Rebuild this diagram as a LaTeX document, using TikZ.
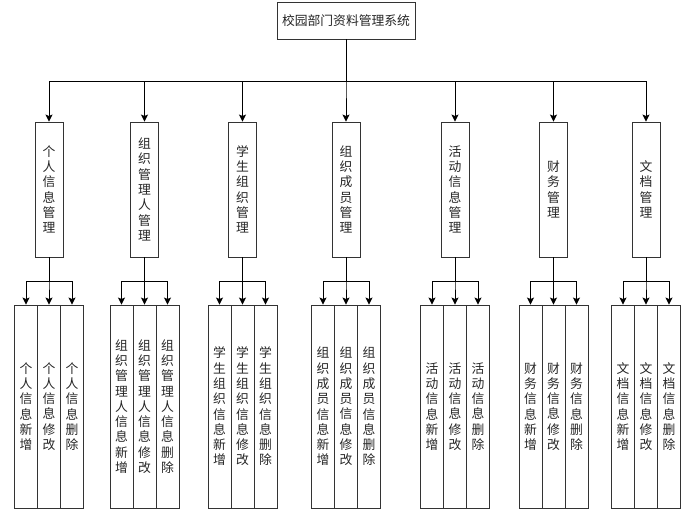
\documentclass[tikz,border=0pt]{standalone}
\usepackage{fontspec}
\setmainfont{Noto Sans CJK SC}
\usetikzlibrary{arrows.meta}
\begin{document}
\begin{tikzpicture}[x=1pt,y=-1pt,
  box/.style={draw=black!80,line width=0.9pt,fill=white,inner sep=0pt,align=center,
    text=black!85,font=\fontsize{12.8}{15.3}\selectfont},
  topbox/.style={box,minimum width=138pt,minimum height=37pt},
  midbox/.style={box,minimum width=28pt,minimum height=135pt},
  leafbox/.style={box,minimum width=23pt,minimum height=203pt},
  arr/.style={line width=0.9pt,-{Stealth[length=7pt,width=7pt,inset=1.5pt]}}]
\useasboundingbox (0,0) rectangle (693,526);
\node[topbox] (top) at (346,20.5) {校园部门资料管理系统};
\coordinate (bus1) at (0,81);
\coordinate (bus2) at (0,281);
\foreach \i/\x/\ttl/\pre in {
  1/49/{个\\人\\信\\息\\管\\理}/{个\\人},
  2/144.5/{组\\织\\管\\理\\人\\管\\理}/{组\\织\\管\\理\\人},
  3/242.5/{学\\生\\组\\织\\管\\理}/{学\\生\\组\\织},
  4/346/{组\\织\\成\\员\\管\\理}/{组\\织\\成\\员},
  5/455/{活\\动\\信\\息\\管\\理}/{活\\动},
  6/553.5/{财\\务\\管\\理}/{财\\务},
  7/646/{文\\档\\管\\理}/{文\\档}}{
  \node[midbox] (l2-\i) at (\x,189.5) {\ttl};
  \draw[arr] (top.south) -- (top.south |- bus1) -| (l2-\i.north);
  \foreach \j/\dx/\act in {1/-23/{新\\增},2/0/{修\\改},3/23/{删\\除}}{
    \node[leafbox] (l3-\i-\j) at ({\x+\dx},406.5) {\pre\\信\\息\\\act};
    \draw[arr] (l2-\i.south) -- (l2-\i.south |- bus2) -| (l3-\i-\j.north);
  }
}
\end{tikzpicture}
\end{document}
